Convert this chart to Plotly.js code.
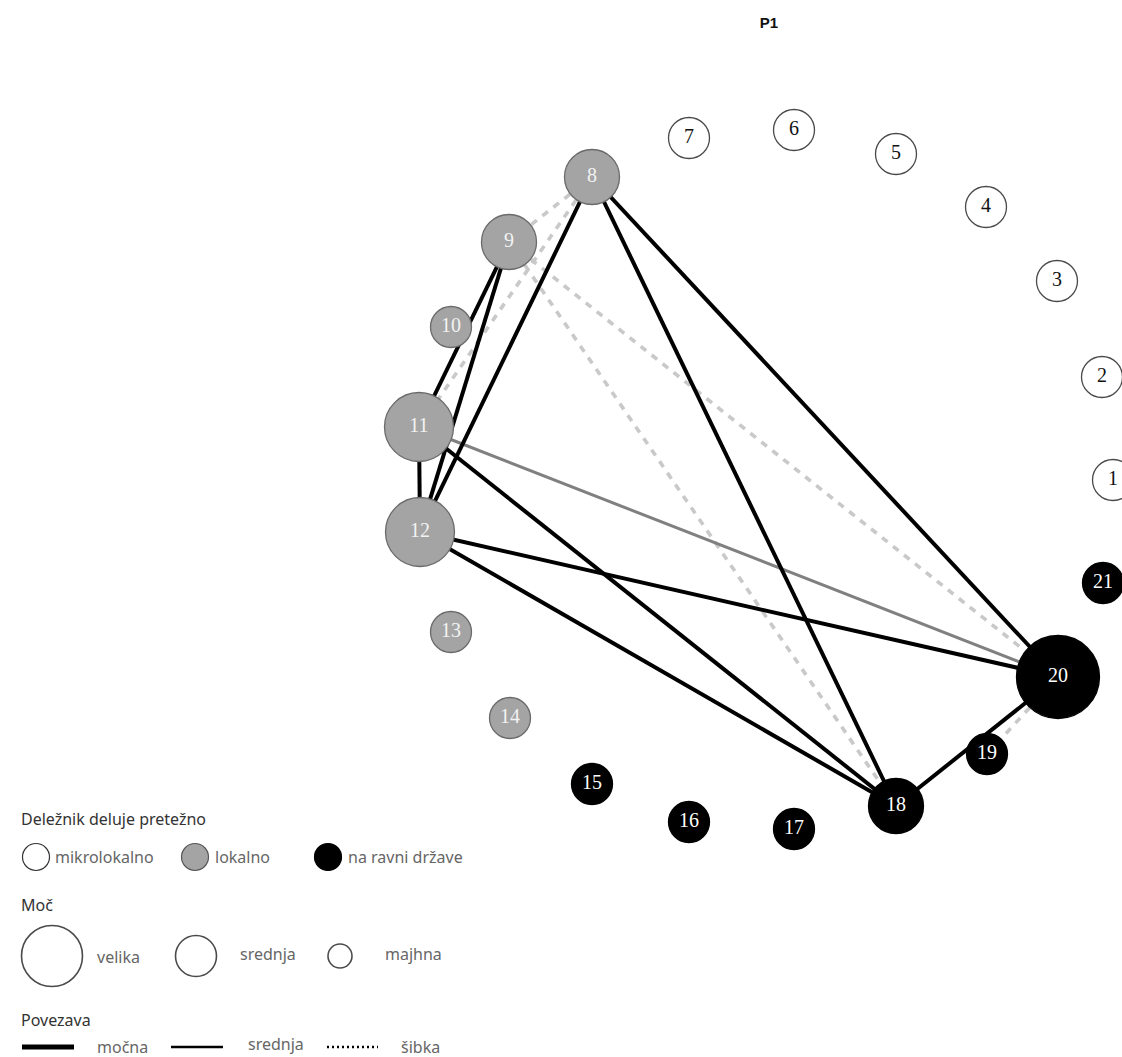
<!DOCTYPE html>
<html>
<head>
<meta charset="utf-8">
<script src="https://cdn.plot.ly/plotly-3.0.1.min.js"></script>
<style>html,body{margin:0;padding:0;background:#fff;}#chart{width:1122px;height:1057px;}</style>
</head>
<body>
<div id="chart"></div>
<script>
// ---- data ----
const nodeLabels = ['1','2','3','4','5','6','7','8','9','10','11','12','13','14','15','16','17','18','19','20','21'];
const nodeX = [1113,1102,1057,986,896,794,689,592,509,451,419,420,451,510,592,689,794,896,987,1058,1103];
const nodeY = [480,377,281,207,154,130,138,177,242,327,427,532,632,718,784,822,829,806,754,677,583];
// level of action: 'mikro' = mikrolokalno, 'lok' = lokalno, 'drz' = na ravni države
const nodeLevel = ['mikro','mikro','mikro','mikro','mikro','mikro','mikro',
                   'lok','lok','lok','lok','lok','lok','lok',
                   'drz','drz','drz','drz','drz','drz','drz'];
// power score
const nodePower = [1,1,1,1,1,1,1, 2,2,1,3,3,1,1, 1,1,1,2,1,4,1];
// edges
const edgeFrom = [8, 8, 8, 9, 9, 11,11,12,12,18, 11, 8, 8, 9, 9, 19];
const edgeTo   = [12,18,20,11,12,12,18,18,20,20, 20, 9, 11,18,20,20];
const edgeType = ['strong','strong','strong','strong','strong','strong','strong','strong','strong','strong',
                  'medium','weak','weak','weak','weak','weak'];

// legend texts
const legendHeaders = ['Deležnik deluje pretežno','Moč','Povezava'];
const levelLabels = ['mikrolokalno','lokalno','na ravni države'];
const powerLabels = ['velika','srednja','majhna'];
const linkLabels = ['močna','srednja','šibka'];

// ---- styles ----
const levelStyle = {
  mikro: {fill:'#ffffff', line:'#4a4a4a', text:'#111111'},
  lok:   {fill:'#a4a4a4', line:'#6a6a6a', text:'#f2f2f2'},
  drz:   {fill:'#000000', line:'#000000', text:'#ffffff'}
};
const edgeStyle = {
  strong: {color:'#000000', width:4, dash:'solid'},
  medium: {color:'#808080', width:3, dash:'solid'},
  weak:   {color:'#c9c9c9', width:3.6, dash:'7px,7px'}
};
const sizeOf = p => 27 + 14 * p;

const traces = [];
// edges grouped by type
['weak','medium','strong'].forEach(t => {
  const xs = [], ys = [];
  for (let i = 0; i < edgeFrom.length; i++) {
    if (edgeType[i] !== t) continue;
    const a = edgeFrom[i]-1, b = edgeTo[i]-1;
    xs.push(nodeX[a], nodeX[b], null);
    ys.push(nodeY[a], nodeY[b], null);
  }
  const s = edgeStyle[t];
  traces.push({type:'scatter', mode:'lines', x:xs, y:ys, hoverinfo:'skip',
    line:{color:s.color, width:s.width, dash:s.dash}});
});
// nodes
traces.push({
  type:'scatter', mode:'markers+text', x:nodeX, y:nodeY, text:nodeLabels,
  textposition:'middle center', hoverinfo:'text',
  textfont:{family:'Liberation Serif, Times New Roman, serif', size:20,
            color:nodeLevel.map(l => levelStyle[l].text)},
  marker:{size:nodePower.map(sizeOf),
          color:nodeLevel.map(l => levelStyle[l].fill),
          line:{color:nodeLevel.map(l => levelStyle[l].line), width:1.3},
          opacity:1}
});

// ---- legend ----
const annotations = [];
const hdrFont = {family:'Noto Sans, sans-serif', size:16, color:'#333333'};
const itmFont = {family:'Noto Sans, sans-serif', size:16, color:'#666666'};
const hdrY = [819, 905, 1020];
legendHeaders.forEach((h,i) => annotations.push({x:19, y:hdrY[i], xref:'x', yref:'y', text:h,
  showarrow:false, xanchor:'left', yanchor:'middle', font:hdrFont}));

// level row
const lvlCx = [36, 195, 328], lvlTx = [53, 213, 346];
const lvlKeys = ['mikro','lok','drz'];
traces.push({type:'scatter', mode:'markers', x:lvlCx, y:[857,857,857], hoverinfo:'skip',
  marker:{size:27, color:lvlKeys.map(k => levelStyle[k].fill),
          line:{color:['#333333','#555555','#000000'], width:1.2}}});
levelLabels.forEach((t,i) => annotations.push({x:lvlTx[i], y:857, xref:'x', yref:'y', text:t,
  showarrow:false, xanchor:'left', yanchor:'middle', font:itmFont}));

// power row
const powCx = [52, 196, 340], powSz = [61, 41, 24], powTx = [95, 238, 383], powTy = [957, 954, 954];
traces.push({type:'scatter', mode:'markers', x:powCx, y:[956,956,956], hoverinfo:'skip',
  marker:{size:powSz, color:'#ffffff', line:{color:'#000000', width:1.6}}});
powerLabels.forEach((t,i) => annotations.push({x:powTx[i], y:powTy[i], xref:'x', yref:'y', text:t,
  showarrow:false, xanchor:'left', yanchor:'middle', font:itmFont}));

// link row
const lnkX0 = [22, 171, 327], lnkX1 = [74, 223, 378], lnkW = [5, 2.6, 2.4], lnkD = ['solid','solid','2px,3px'];
const lnkTx = [95, 246, 399];
for (let i = 0; i < 3; i++) {
  traces.push({type:'scatter', mode:'lines', x:[lnkX0[i], lnkX1[i]], y:[1047,1047], hoverinfo:'skip',
    line:{color:'#000000', width:lnkW[i], dash:lnkD[i]}});
  annotations.push({x:lnkTx[i], y:i===1?1044:1047, xref:'x', yref:'y', text:linkLabels[i],
    showarrow:false, xanchor:'left', yanchor:'middle', font:itmFont});
}

const layout = {
  width:1122, height:1057,
  margin:{l:0, r:0, t:0, b:0},
  paper_bgcolor:'#ffffff', plot_bgcolor:'#ffffff',
  showlegend:false,
  title:{text:'<b>P1</b>', x:769/1122, xanchor:'center', xref:'paper',
         y:1-23/1057, yanchor:'middle', yref:'container',
         font:{family:'Liberation Sans, Arial, sans-serif', size:15, color:'#111111'}},
  xaxis:{range:[0,1122], visible:false, fixedrange:true},
  yaxis:{range:[1057,0], visible:false, fixedrange:true},
  annotations:annotations
};
Plotly.newPlot('chart', traces, layout, {displayModeBar:false, staticPlot:true});
</script>
</body>
</html>
